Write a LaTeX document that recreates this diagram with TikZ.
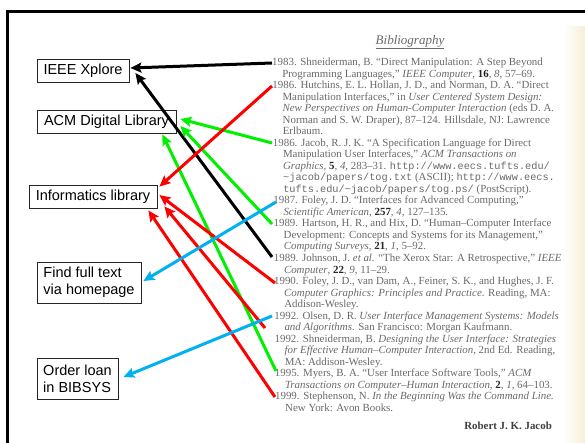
\documentclass[tikz,border=0pt]{standalone}
\usepackage{fontspec}
\setmainfont{Liberation Serif}
\setmonofont[Scale=0.94]{Liberation Mono}
\newfontfamily\boxfont{Liberation Sans}
\usetikzlibrary{arrows.meta,calc}
\definecolor{bibgray}{HTML}{6A6A6A}
\definecolor{arrred}{HTML}{FF0000}
\definecolor{arrgreen}{HTML}{00F000}
\definecolor{arrblue}{HTML}{00B0F0}
\definecolor{pagebeige}{HTML}{F5EFD8}
\newcommand\bb[1]{{\color{black!85}\textbf{#1}}}
\newcommand\bibline[3]{\node[bibtext] (bl#1) at ({272+#2+0.1*#1},{65.5+11.53*#1}) {#3};}
\begin{document}
\begin{tikzpicture}[x=1pt,y=-1pt,
  box/.style={draw=black!85, line width=0.8pt, inner sep=0pt, align=left, text=black,
    font=\boxfont\fontsize{14.5}{17}\selectfont},
  bibtext/.style={anchor=base west, inner sep=0pt, text=bibgray,
    font=\fontsize{10.9}{11.5}\selectfont},
  arr/.style={line width=3pt, -{Stealth[length=11pt,width=10pt,inset=2pt]}},
  frameline/.style={line width=3pt, black}
]
\useasboundingbox (0,0) rectangle (585,443);
\fill[white] (0,0) rectangle (585,443);
\shade[left color=white, right color=pagebeige] (563,27) rectangle (585,443);
\draw[frameline] (6,11.5) -- (585,11.5);
\draw[frameline] (7.5,10) -- (7.5,443);

% bibliography
\node[text=bibgray, font=\fontsize{13}{14}\selectfont] (head) at (410,42) {\underline{\textit{Bibliography}}};
\bibline{0}{0}{1983. Shneiderman, B. “Direct Manipulation: A Step Beyond}
\bibline{1}{10}{Programming Languages,” \emph{IEEE Computer}, \bb{16}, \emph{8}, 57--69.}
\bibline{2}{0}{1986. Hutchins, E. L. Hollan, J. D., and Norman, D. A. “Direct}
\bibline{3}{10}{Manipulation Interfaces,” in \emph{User Centered System Design:}}
\bibline{4}{10}{\emph{New Perspectives on Human-Computer Interaction} (eds D. A.}
\bibline{5}{10}{Norman and S. W. Draper), 87--124. Hillsdale, NJ: Lawrence}
\bibline{6}{10}{Erlbaum.}
\bibline{7}{0}{1986. Jacob, R. J. K. “A Specification Language for Direct}
\bibline{8}{10}{Manipulation User Interfaces,” \emph{ACM Transactions on}}
\bibline{9}{10}{\emph{Graphics}, \bb{5}, \emph{4}, 283--31. \texttt{http://www.eecs.tufts.edu/}}
\bibline{10}{10}{\texttt{\textasciitilde jacob/papers/tog.txt} (ASCII); \texttt{http://www.eecs.}}
\bibline{11}{10}{\texttt{tufts.edu/\textasciitilde jacob/papers/tog.ps/} (PostScript).}
\bibline{12}{0}{1987. Foley, J. D. “Interfaces for Advanced Computing,”}
\bibline{13}{10}{\emph{Scientific American}, \bb{257}, \emph{4}, 127--135.}
\bibline{14}{0}{1989. Hartson, H. R., and Hix, D. “Human--Computer Interface}
\bibline{15}{10}{Development: Concepts and Systems for its Management,”}
\bibline{16}{10}{\emph{Computing Surveys}, \bb{21}, \emph{1}, 5--92.}
\bibline{17}{0}{1989. Johnson, J. \emph{et al.} “The Xerox Star: A Retrospective,” \emph{IEEE}}
\bibline{18}{10}{\emph{Computer}, \bb{22}, \emph{9}, 11--29.}
\bibline{19}{0}{1990. Foley, J. D., van Dam, A., Feiner, S. K., and Hughes, J. F.}
\bibline{20}{10}{\emph{Computer Graphics: Principles and Practice}. Reading, MA:}
\bibline{21}{10}{Addison-Wesley.}
\bibline{22}{0}{1992. Olsen, D. R. \emph{User Interface Management Systems: Models}}
\bibline{23}{10}{\emph{and Algorithms}. San Francisco: Morgan Kaufmann.}
\bibline{24}{0}{1992. Shneiderman, B. \emph{Designing the User Interface: Strategies}}
\bibline{25}{10}{\emph{for Effective Human--Computer Interaction}, 2nd Ed. Reading,}
\bibline{26}{10}{MA: Addison-Wesley.}
\bibline{27}{0}{1995. Myers, B. A. “User Interface Software Tools,” \emph{ACM}}
\bibline{28}{10}{\emph{Transactions on Computer--Human Interaction}, \bb{2}, \emph{1}, 64--103.}
\bibline{29}{0}{1999. Stephenson, N. \emph{In the Beginning Was the Command Line.}}
\bibline{30}{10}{New York: Avon Books.}
\node[anchor=base east, inner sep=0pt, text=black!75, font=\fontsize{10.9}{12}\selectfont\bfseries] (sig) at (552,429) {Robert J. K. Jacob};

% boxes
\node[box, minimum width=92pt, minimum height=23pt] (ieee) at (83,70.5) {IEEE Xplore};
\node[box, minimum width=139pt, minimum height=23pt] (acm) at (106.5,121.5) {ACM Digital Library};
\node[box, minimum width=128pt, minimum height=23pt] (info) at (93,196.5) {Informatics library};
\node[box, minimum width=104pt, minimum height=41pt] (find) at (89,282.5) {Find full text\\via homepage};
\node[box, minimum width=81pt, minimum height=41pt] (order) at (77.5,378.5) {Order loan\\in BIBSYS};

% entry points
\coordinate (s1983) at (272,63);
\coordinate (s1986h) at (272,86);
\coordinate (s1986j) at (272,143);
\coordinate (s1987) at (276,202);
\coordinate (s1989h) at (272,224);
\coordinate (s1989j) at (272,257);
\coordinate (s1990) at (275,283);
\coordinate (s1992o) at (272,316);
\coordinate (s1992s) at (265,328);
\coordinate (s1995) at (276,371);
\coordinate (s1999) at (275,397);

% arrows
\draw[arr, black] (s1983) -- ($(ieee.east)+(1,-2.5)$);
\draw[arr, black] (s1989j) -- ($(ieee.east)+(6,2.5)$);
\draw[arr, arrgreen] (s1986j) -- ($(acm.east)+(4,-2.5)$);
\draw[arr, arrgreen] (s1989h) -- ($(acm.east)+(4,4.5)$);
\draw[arr, arrgreen] (s1995) -- ($(acm.south east)+(-14,1)$);
\draw[arr, arrred] (s1986h) -- ($(info.north east)+(2,2)$);
\draw[arr, arrred] (s1990) -- ($(info.east)+(2,-1.5)$);
\draw[arr, arrred] (s1992s) -- ($(info.south east)+(7,-2)$);
\draw[arr, arrred] (s1999) -- ($(info.south east)+(-9,2)$);
\draw[arr, arrblue] (s1987) -- ($(find.east)+(2,-1.5)$);
\draw[arr, arrblue] (s1992o) -- ($(order.east)+(5,-1.5)$);
\end{tikzpicture}
\end{document}
